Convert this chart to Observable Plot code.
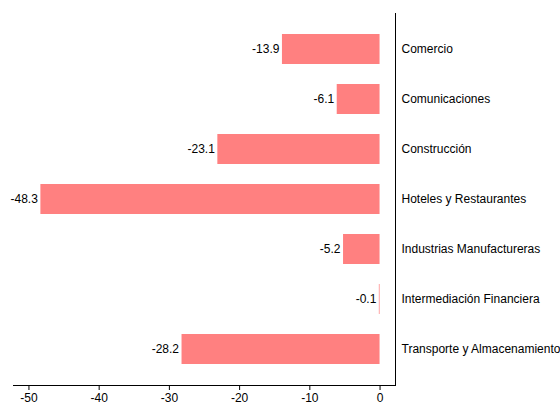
<!DOCTYPE html>
<html>
<head>
<meta charset="utf-8">
<script src="https://cdn.jsdelivr.net/npm/d3@7"></script>
<script src="https://cdn.jsdelivr.net/npm/@observablehq/plot@0.6"></script>
<style>
  html, body { margin: 0; padding: 0; background: #fff; }
</style>
</head>
<body>
<div id="chart"></div>
<script>
const sectors = [
  "Comercio",
  "Comunicaciones",
  "Construcción",
  "Hoteles y Restaurantes",
  "Industrias Manufactureras",
  "Intermediación Financiera",
  "Transporte y Almacenamiento"
];
const values = [-13.9, -6.1, -23.1, -48.3, -5.2, -0.1, -28.2];
const xTicks = [-50, -40, -30, -20, -10, 0];

const data = sectors.map((s, i) => ({sector: s, value: values[i]}));

const chart = Plot.plot({
  width: 560,
  height: 402,
  marginLeft: 13,
  marginRight: 165,
  marginTop: 13,
  marginBottom: 17,
  style: {fontFamily: "'Liberation Sans', Arial, sans-serif", fontSize: "12px", color: "black", background: "white"},
  x: {domain: [-52.2, 2.2], ticks: xTicks, label: null},
  y: {domain: sectors, paddingInner: 0.4, paddingOuter: 0.42, label: null},
  marks: [
    Plot.barX(data, {x: "value", y: "sector", fill: "#ff8080"}),
    Plot.text(data, {x: "value", y: "sector", text: d => d.value.toFixed(1), textAnchor: "end", dx: -3, fill: "black", fontSize: 12}),
    Plot.axisX({ticks: xTicks, tickSize: 5, tickPadding: 3, anchor: "bottom", label: null, tickFormat: d => String(d), fontSize: 12}),
    Plot.axisY({anchor: "right", tickSize: 0, tickPadding: 6, label: null, fontSize: 12}),
    Plot.frame({anchor: "bottom", stroke: "black"}),
    Plot.frame({anchor: "right", stroke: "black"})
  ]
});
document.getElementById("chart").appendChild(chart);
</script>
</body>
</html>
